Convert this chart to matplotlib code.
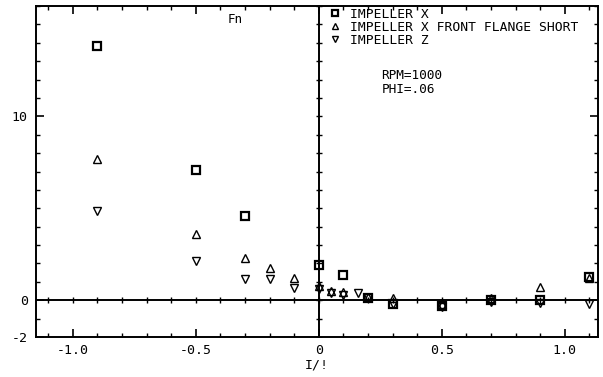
import numpy as np
import matplotlib
matplotlib.use('Agg')
import matplotlib.pyplot as plt

# values
x_sq = [-0.9, -0.5, -0.3, 0.0, 0.1, 0.2, 0.3, 0.5, 0.7, 0.9, 1.1]
y_sq = [13.8, 7.1, 4.6, 1.9, 1.35, 0.15, -0.2, -0.3, 0.0, 0.0, 1.25]

x_tri = [-0.9, -0.5, -0.3, -0.2, -0.1, 0.0, 0.05, 0.1, 0.2, 0.3, 0.5, 0.7, 0.9, 1.1]
y_tri = [7.7, 3.6, 2.3, 1.75, 1.2, 0.8, 0.5, 0.45, 0.2, 0.1, -0.2, 0.15, 0.7, 1.2]

x_inv = [-0.9, -0.5, -0.3, -0.2, -0.1, 0.0, 0.05, 0.1, 0.16, 0.2, 0.3, 0.5, 0.7, 0.9, 1.1]
y_inv = [4.85, 2.15, 1.15, 1.15, 0.67, 0.6, 0.4, 0.3, 0.4, 0.1, -0.2, -0.35, -0.1, -0.15, -0.2]

labels = ['IMPELLER X', 'IMPELLER X FRONT FLANGE SHORT', 'IMPELLER Z']

plt.rcParams['font.family'] = 'DejaVu Sans Mono'

fig = plt.figure(figsize=(6.03, 3.77), dpi=100)
ax = fig.add_axes([0.0597, 0.106, 0.932, 0.878])

ax.set_xlim(-1.15, 1.135)
ax.set_ylim(-2, 16)

# zero lines with their own little ticks
ax.axhline(0, color='k', lw=1.4, zorder=1)
ax.axvline(0, color='k', lw=1.4, zorder=1)
tx = np.arange(-1.1, 1.15, 0.1)
ax.plot(tx, np.zeros_like(tx), ls='none', marker='|', ms=4, color='k', mew=1)
ty = np.arange(-2, 17, 1)
ax.plot(np.zeros_like(ty), ty, ls='none', marker='_', ms=4, color='k', mew=1)

ax.plot(x_sq, y_sq, ls='none', marker='s', ms=5.5, mfc='none', mec='k', mew=1.6, label=labels[0])
ax.plot(x_tri, y_tri, ls='none', marker='^', ms=5.5, mfc='none', mec='k', mew=1.0, label=labels[1])
ax.plot(x_inv, y_inv, ls='none', marker='v', ms=5.5, mfc='none', mec='k', mew=1.0, label=labels[2])

ax.set_xticks([-1.0, -0.5, 0, 0.5, 1.0])
ax.set_xticklabels(['-1.0', '-0.5', '0', '0.5', '1.0'])
ax.set_xticks(np.arange(-1.1, 1.15, 0.1), minor=True)
ax.set_yticks([-2, 0, 10])
ax.set_yticklabels(['-2', '0', '10'])
ax.set_yticks(np.arange(-2, 17, 1), minor=True)
ax.tick_params(which='both', direction='in', top=True, right=True, colors='k', labelsize=9.5)
ax.tick_params(which='major', length=6, width=1.2)
ax.tick_params(which='minor', length=3, width=1)
ax.tick_params(axis='y', pad=6)
ax.tick_params(axis='x', pad=5)

for s in ax.spines.values():
    s.set_linewidth(1.4)

ax.set_xlabel('I/!', fontsize=9.5, labelpad=1)

ax.text(-0.34, 15.25, 'Fn', fontsize=9, ha='center', va='center')
ax.text(0.255, 11.85, 'RPM=1000\nPHI=.06', fontsize=9.2, ha='left', va='center', linespacing=1.15)

leg = ax.legend(loc='upper left', bbox_to_anchor=(0.525, 0.995), frameon=False, fontsize=9.4,
                handlelength=0.6, handletextpad=0.85, labelspacing=0.0, borderaxespad=0,
                borderpad=0, markerscale=0.9)

fig.savefig('out.png', dpi=100)
